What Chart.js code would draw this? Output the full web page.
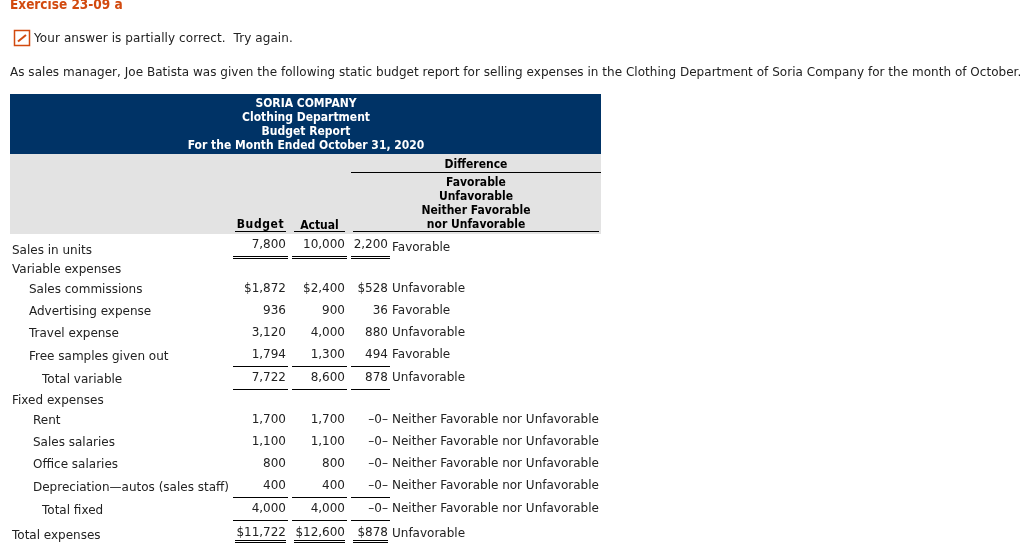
<!DOCTYPE html>
<html>
<head>
<meta charset="utf-8">
<title>Budget Report</title>
<script src="https://cdn.jsdelivr.net/npm/chart.js@4"></script>
<style>
  html, body { margin: 0; padding: 0; background: #fff; }
  canvas { display: block; }
</style>
</head>
<body>
<canvas id="report" width="1034" height="552"></canvas>
<script>
// Report rows
const rowNames = ['Sales in units', 'Variable expenses', 'Sales commissions', 'Advertising expense', 'Travel expense',
    'Free samples given out', 'Total variable', 'Fixed expenses', 'Rent', 'Sales salaries', 'Office salaries',
    'Depreciation\u2014autos (sales staff)', 'Total fixed', 'Total expenses'];
const budget = [7800, null, 1872, 936, 3120, 1794, 7722, null, 1700, 1100, 800, 400, 4000, 11722];
const actual = [10000, null, 2400, 900, 4000, 1300, 8600, null, 1700, 1100, 800, 400, 4000, 12600];
const difference = [2200, null, 528, 36, 880, 494, 878, null, 0, 0, 0, 0, 0, 878];
const F = 'Favorable', U = 'Unfavorable', N = 'Neither Favorable nor Unfavorable';
const verdict = [F, null, U, F, U, F, U, null, N, N, N, N, N, U];
const dollarRows = [2, 13];

// Heading text
const exerciseTitle = 'Exercise 23-09 a';
const answerNote = 'Your answer is partially correct.  Try again.';
const introText = 'As sales manager, Joe Batista was given the following static budget report for selling expenses in the Clothing Department of Soria Company for the month of October.';
const reportTitle = ['SORIA COMPANY', 'Clothing Department', 'Budget Report', 'For the Month Ended October 31, 2020'];
const diffHeading = ['Favorable', 'Unfavorable', 'Neither Favorable', 'nor Unfavorable'];

// Layout, in page pixels
const labelX = [12, 12, 29, 29, 29, 29, 42, 12, 33, 33, 33, 33, 42, 12];
const labelY = [251, 270, 290, 312, 334, 357, 380, 401, 421, 443, 465, 488, 511, 536];
const valueY = [245, 270, 289, 311, 333, 355, 378, 401, 420, 442, 464, 486, 509, 533];
const verdictY = [248, 270, 289, 311, 333, 355, 378, 401, 420, 442, 464, 486, 509, 534];
const columnRight = {budget: 286, actual: 345, difference: 388};
const verdictX = 392;

const bands = [
    {x0: 10, x1: 601, y0: 94, y1: 154, color: '#003366'},
    {x0: 10, x1: 601, y0: 154, y1: 234, color: '#e3e3e3'}
];
const wideCols = [[233, 288], [292, 347], [351, 390]];
const narrowCols = [[235, 286], [294, 345], [353, 388]];
const rules = [
    {x0: 351, x1: 601, y: 172.5},
    {x0: 235, x1: 286, y: 231.5},
    {x0: 294, x1: 345, y: 231.5},
    {x0: 353, x1: 599, y: 231.5}
];
[256.5, 258.5, 366.5, 389.5, 497.5, 520.5].forEach(y => wideCols.forEach(c => rules.push({x0: c[0], x1: c[1], y: y})));
[540.5, 542.5].forEach(y => narrowCols.forEach(c => rules.push({x0: c[0], x1: c[1], y: y})));

const BODY_FONT = '12px "DejaVu Sans"';
const HEAD_FONT = 'bold 12px "DejaVu Sans Condensed"';

function formatValue(val, row) {
    if (val === 0) return '\u20130\u2013';
    const s = val.toLocaleString('en-US');
    return dollarRows.includes(row) ? '$' + s : s;
}

// One dataset per column, the points themselves stay invisible and carry the text
function column(values, x, ys, text, align) {
    const pts = [];
    values.forEach((v, i) => {
        if (v !== null) pts.push({x: Array.isArray(x) ? x[i] : x, y: ys[i], text: text(v, i)});
    });
    return {data: pts, pointRadius: 0, showLine: false, textAlign: align};
}

const tablePlugin = {
    id: 'tablePlugin',
    beforeDatasetsDraw(chart) {
        const c = chart.ctx, sx = chart.scales.x, sy = chart.scales.y;
        const px = v => sx.getPixelForValue(v), py = v => sy.getPixelForValue(v);
        bands.forEach(b => {
            c.fillStyle = b.color;
            c.fillRect(px(b.x0), py(b.y0), px(b.x1) - px(b.x0), py(b.y1) - py(b.y0));
        });
        c.strokeStyle = '#000';
        c.lineWidth = 1;
        rules.forEach(r => {
            c.beginPath();
            c.moveTo(px(r.x0), py(r.y));
            c.lineTo(px(r.x1), py(r.y));
            c.stroke();
        });

        // Answer icon
        c.strokeStyle = '#d24a0f';
        c.lineWidth = 1.5;
        c.strokeRect(px(14.5), py(30.5), 15, 15);
        c.lineWidth = 2;
        c.beginPath();
        c.moveTo(px(18), py(41.5));
        c.lineTo(px(26), py(35));
        c.stroke();

        const put = (str, x, y, font, color, align, spacing) => {
            c.font = font;
            c.fillStyle = color;
            c.textAlign = align || 'left';
            c.textBaseline = 'middle';
            c.letterSpacing = (spacing || 0) + 'px';
            c.fillText(str, px(x), py(y));
            c.letterSpacing = '0px';
        };
        put(exerciseTitle, 10, 5, 'bold 13.5px "DejaVu Sans Condensed"', '#d24a0f');
        put(answerNote, 34, 38.5, BODY_FONT, '#222', 'left', 0.09);
        put(introText, 10, 72.5, BODY_FONT, '#222', 'left', 0.03);
        reportTitle.forEach((t, i) => put(t, 306, 104 + i * 14, HEAD_FONT, '#fff', 'center'));
        put('Difference', 476, 164.5, HEAD_FONT, '#000', 'center');
        diffHeading.forEach((t, i) => put(t, 476, 183 + i * 14, HEAD_FONT, '#000', 'center'));
        put('Budget', 260.5, 225, HEAD_FONT, '#000', 'center', 0.6);
        put('Actual', 319.5, 226, HEAD_FONT, '#000', 'center');
    },
    afterDatasetsDraw(chart) {
        const c = chart.ctx;
        chart.data.datasets.forEach((ds, i) => {
            c.font = BODY_FONT;
            c.fillStyle = '#222';
            c.textAlign = ds.textAlign;
            c.textBaseline = 'middle';
            chart.getDatasetMeta(i).data.forEach((pt, j) => c.fillText(ds.data[j].text, pt.x, pt.y));
        });
    }
};

new Chart(document.getElementById('report'), {
    type: 'scatter',
    data: {
        datasets: [
            column(rowNames, labelX, labelY, v => v, 'left'),
            column(budget, columnRight.budget, valueY, formatValue, 'right'),
            column(actual, columnRight.actual, valueY, formatValue, 'right'),
            column(difference, columnRight.difference, valueY, formatValue, 'right'),
            column(verdict, verdictX, verdictY, v => v, 'left')
        ]
    },
    options: {
        responsive: false,
        animation: false,
        devicePixelRatio: 1,
        layout: {padding: 0},
        scales: {
            x: {type: 'linear', display: false, min: 0, max: 1034},
            y: {type: 'linear', display: false, reverse: true, min: 0, max: 552}
        },
        plugins: {legend: {display: false}, tooltip: {enabled: false}}
    },
    plugins: [tablePlugin]
});
</script>
</body>
</html>
